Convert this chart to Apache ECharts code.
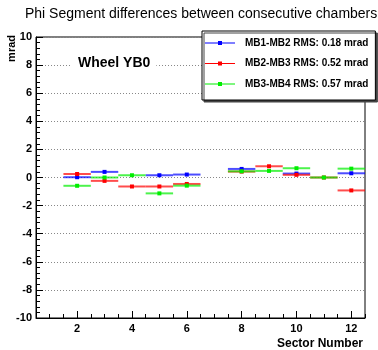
<!DOCTYPE html>
<html>
<head>
<meta charset="utf-8">
<script src="https://cdn.jsdelivr.net/npm/echarts@6/dist/echarts.min.js"></script>
<style>
  html, body { margin: 0; padding: 0; background: #fff; }
  #chart { width: 378px; height: 350px; }
</style>
</head>
<body>
<div id="chart"></div>
<script>
// Sector numbers (bins) along the x axis
const sectors = [1, 2, 3, 4, 5, 6, 7, 8, 9, 10, 11, 12];

// Phi segment differences per sector, in mrad (null = no entry)
const mb1mb2 = [null, 0.02, 0.40, null, 0.16, 0.21, null, 0.61, null, 0.28, null, 0.30];
const mb2mb3 = [null, 0.25, -0.24, -0.64, -0.64, -0.46, null, 0.42, 0.80, 0.19, 0.0, -0.92];
const mb3mb4 = [null, -0.59, 0.0, 0.16, -1.13, -0.58, null, 0.44, 0.47, 0.66, 0.0, 0.63];

const seriesNames = [
  'MB1-MB2 RMS: 0.18 mrad',
  'MB2-MB3 RMS: 0.52 mrad',
  'MB3-MB4 RMS: 0.57 mrad'
];
const seriesColors = ['#0000ff', '#ff0000', '#00ee00'];

// Axis ticks
const xMajorTicks = [2, 4, 6, 8, 10, 12];
const xMinorTicks = [1, 1.5, 2.5, 3, 3.5, 4.5, 5, 5.5, 6.5, 7, 7.5, 8.5, 9, 9.5, 10.5, 11, 11.5, 12.5];

const FONT = '"Liberation Sans", Arial, Helvetica, sans-serif';

function toPairs(values) {
  const out = [];
  values.forEach((v, i) => { if (v !== null) out.push([sectors[i], v]); });
  return out;
}

// Each bin: horizontal bar across the bin width plus a small marker
function renderBin(params, api) {
  const x = api.value(0);
  const v = api.value(1);
  const a = api.coord([x - 0.5, v]);
  const b = api.coord([x + 0.5, v]);
  const c = api.coord([x, v]);
  const color = api.visual('color');
  return {
    type: 'group',
    children: [
      { type: 'line', shape: { x1: a[0], y1: a[1], x2: b[0], y2: b[1] },
        style: { stroke: color, lineWidth: 2, opacity: 0.7 } },
      { type: 'rect', shape: { x: c[0] - 2, y: c[1] - 2, width: 4, height: 4 },
        style: { fill: color } }
    ]
  };
}

const legendIcon = 'path://M0,1.5H30V2.5H0Z M13,0H17V4H13Z';

const chart = echarts.init(document.getElementById('chart'), null, { renderer: 'canvas' });

chart.setOption({
  animation: false,
  backgroundColor: '#fff',
  title: {
    text: 'Phi Segment differences between consecutive chambers',
    left: 20,
    top: 2,
    textStyle: { fontFamily: FONT, fontSize: 14, fontWeight: 'normal', color: '#000' }
  },
  grid: {
    left: 36, right: 13, top: 37, bottom: 30,
    show: true, borderColor: '#000', borderWidth: 1, backgroundColor: '#fff'
  },
  legend: {
    orient: 'vertical',
    left: 202, top: 31,
    padding: [6, 7, 10, 3],
    itemGap: 8.5,
    itemWidth: 30, itemHeight: 4,
    backgroundColor: '#fff',
    borderColor: '#000', borderWidth: 1,
    shadowColor: '#444', shadowBlur: 0, shadowOffsetX: 2, shadowOffsetY: 2,
    textStyle: { fontFamily: FONT, fontSize: 10, fontWeight: 'bold', color: '#000',
                 lineHeight: 12, padding: [0, 0, 0, 5] },
    data: seriesNames.map(n => ({ name: n, icon: legendIcon }))
  },
  xAxis: [
    {
      type: 'value', min: 0.5, max: 12.5,
      axisLine: { onZero: false, lineStyle: { color: '#000', width: 1 } },
      axisTick: { inside: true, length: 7, customValues: xMajorTicks, lineStyle: { color: '#000' } },
      axisLabel: { customValues: xMajorTicks, margin: 5, color: '#000',
                   fontFamily: FONT, fontSize: 11, fontWeight: 'bold' },
      splitLine: { show: false },
      name: 'Sector Number',
      nameLocation: 'end',
      nameGap: -2,
      nameTextStyle: { fontFamily: FONT, fontSize: 12, fontWeight: 'bold', color: '#000',
                       align: 'right', verticalAlign: 'top', padding: [20, 0, 0, 0] }
    },
    {
      type: 'value', min: 0.5, max: 12.5, position: 'bottom',
      axisLine: { show: false, onZero: false },
      axisTick: { inside: true, length: 4, customValues: xMinorTicks, lineStyle: { color: '#000' } },
      axisLabel: { show: false },
      splitLine: { show: false }
    }
  ],
  yAxis: {
    type: 'value', min: -10, max: 10, interval: 2,
    axisLine: { show: true, onZero: false, lineStyle: { color: '#000', width: 1 } },
    axisTick: { show: true, inside: true, length: 7, lineStyle: { color: '#000' } },
    minorTick: { show: true, splitNumber: 5, length: 4, lineStyle: { color: '#000' } },
    axisLabel: { margin: 4, color: '#000', fontFamily: FONT, fontSize: 11, fontWeight: 'bold' },
    splitLine: { show: true, lineStyle: { color: '#888', type: [1, 2], width: 1 } }
  },
  graphic: [
    {
      type: 'text', left: 6, top: 35, rotation: Math.PI / 2,
      style: { text: 'mrad', fontFamily: FONT, fontSize: 11, fontWeight: 'bold', fill: '#000' }
    },
    {
      type: 'text', left: 72, top: 54, z: 10,
      style: { text: 'Wheel YB0', fontFamily: FONT, fontSize: 14, fontWeight: 'bold', fill: '#000',
               backgroundColor: '#fff', padding: [2, 6, 2, 6] }
    }
  ],
  series: [mb1mb2, mb2mb3, mb3mb4].map((vals, i) => ({
    type: 'custom',
    name: seriesNames[i],
    xAxisIndex: 0,
    yAxisIndex: 0,
    itemStyle: { color: seriesColors[i] },
    renderItem: renderBin,
    data: toPairs(vals)
  }))
});
</script>
</body>
</html>
